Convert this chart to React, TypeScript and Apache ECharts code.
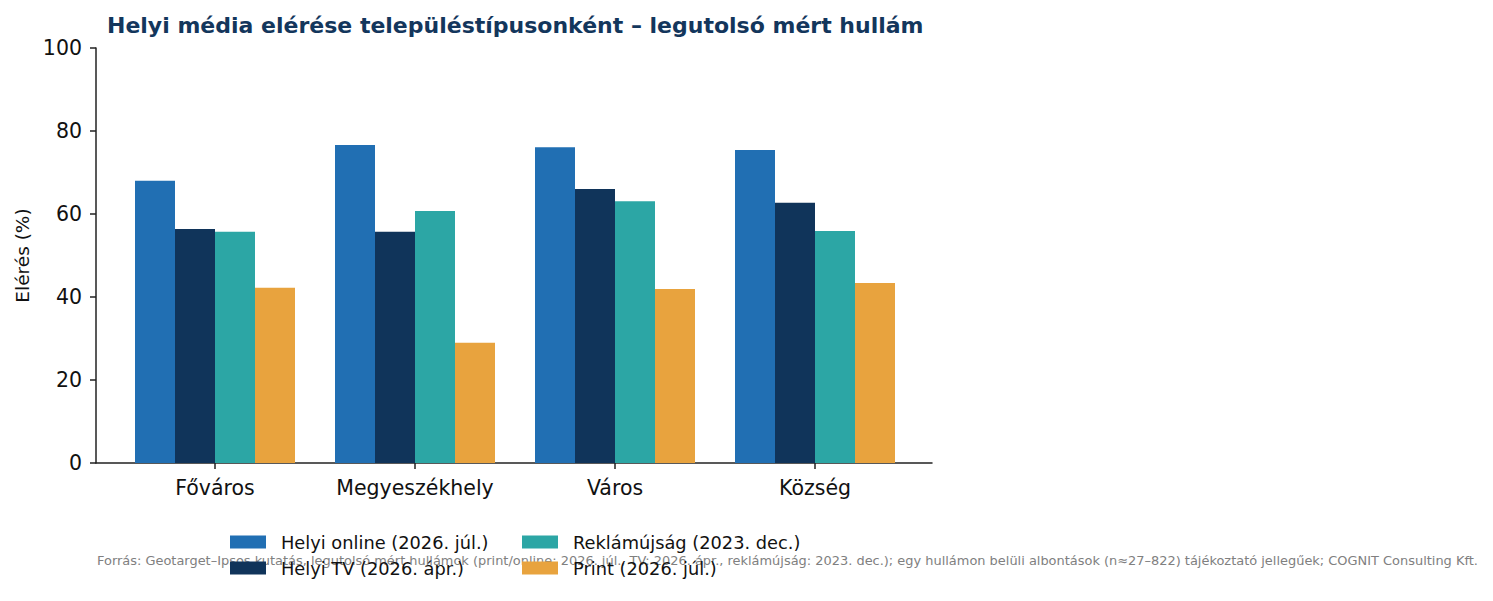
import React, { useEffect, useRef } from 'react';
import * as echarts from 'echarts';

const categories = ['Főváros', 'Megyeszékhely', 'Város', 'Község'];
const seriesNames = [
  'Helyi online (2026. júl.)',
  'Helyi TV (2026. ápr.)',
  'Reklámújság (2023. dec.)',
  'Print (2026. júl.)',
];
const onlineValues = [68.0, 76.6, 76.1, 75.4];
const tvValues = [56.4, 55.7, 66.0, 62.7];
const leafletValues = [55.7, 60.7, 63.1, 55.9];
const printValues = [42.2, 29.0, 41.9, 43.4];
const yTicks = [0, 20, 40, 60, 80, 100];
const colors = ['#216fb3', '#10345a', '#2ca6a5', '#e8a33e'];

const FONT = '"DejaVu Sans", sans-serif';

export default function App() {
  const chartRef = useRef<HTMLDivElement>(null);

  useEffect(() => {
    if (!chartRef.current) return;
    const myChart = echarts.init(chartRef.current, undefined, { renderer: 'svg' });

    const values = [onlineValues, tvValues, leafletValues, printValues];

    const legendBase = {
      orient: 'vertical',
      top: 533,
      padding: 0,
      icon: 'rect',
      itemWidth: 36,
      itemHeight: 13,
      itemGap: 8,
      textStyle: { fontSize: 17.8, color: '#111', fontFamily: FONT, padding: [0, 0, 0, 10] },
    };

    const option = {
      animation: false,
      textStyle: { fontFamily: FONT },
      title: {
        text: 'Helyi média elérése településtípusonként – legutolsó mért hullám',
        left: 107,
        top: 14,
        padding: 0,
        textStyle: { fontSize: 22, fontWeight: 'bold', color: '#13365c', fontFamily: FONT },
      },
      legend: [
        { ...legendBase, data: seriesNames.slice(0, 2), left: 230 },
        { ...legendBase, data: seriesNames.slice(2, 4), left: 522 },
      ],
      grid: [
        { left: 96, top: 48, width: 836, height: 415 },
        { left: 115, top: 48, width: 800, height: 415 },
      ],
      xAxis: [
        {
          type: 'value',
          gridIndex: 0,
          min: 0,
          max: 1,
          axisLine: { show: true, lineStyle: { color: '#222', width: 1.5 } },
          axisTick: { show: false },
          axisLabel: { show: false },
          splitLine: { show: false },
        },
        {
          type: 'category',
          gridIndex: 1,
          data: categories,
          axisLine: { show: false },
          axisTick: { show: true, alignWithLabel: true, length: 6, lineStyle: { color: '#222', width: 1.5 } },
          axisLabel: { interval: 0, fontSize: 20.5, color: '#111', margin: 14, fontFamily: FONT },
        },
      ],
      yAxis: [
        {
          type: 'value',
          gridIndex: 0,
          min: yTicks[0],
          max: yTicks[yTicks.length - 1],
          interval: 20,
          name: 'Elérés (%)',
          nameLocation: 'middle',
          nameRotate: 90,
          nameGap: 64,
          nameTextStyle: { fontSize: 18.5, color: '#111', fontFamily: FONT },
          axisLine: { show: true, lineStyle: { color: '#222', width: 1.5 } },
          axisTick: { show: true, length: 6, lineStyle: { color: '#222', width: 1.5 } },
          axisLabel: { fontSize: 20.5, color: '#111', margin: 14, fontFamily: FONT },
          splitLine: { show: false },
        },
        {
          type: 'value',
          gridIndex: 1,
          min: 0,
          max: 100,
          show: false,
          splitLine: { show: false },
        },
      ],
      series: seriesNames.map((name, i) => ({
        name,
        type: 'bar',
        xAxisIndex: 1,
        yAxisIndex: 1,
        barWidth: 40,
        barGap: '0%',
        itemStyle: { color: colors[i] },
        data: values[i],
      })),
      graphic: {
        elements: [
          {
            type: 'text',
            left: 97,
            top: 554,
            z: 0,
            style: {
              text:
                'Forrás: Geotarget–Ipsos kutatás, legutolsó mért hullámok (print/online: 2026. júl., TV: 2026. ápr., reklámújság: 2023. dec.); egy hullámon belüli albontások (n≈27–822) tájékoztató jellegűek; COGNIT Consulting Kft.',
              fontSize: 12.95,
              fill: '#808080',
              fontFamily: FONT,
            },
          },
        ],
      },
    };

    myChart.setOption(option);

    return () => {
      myChart.dispose();
    };
  }, []);

  return (
    <div
      ref={chartRef}
      style={{ position: 'fixed', left: 0, top: 0, width: '1493px', height: '601px', background: '#fff' }}
    />
  );
}
